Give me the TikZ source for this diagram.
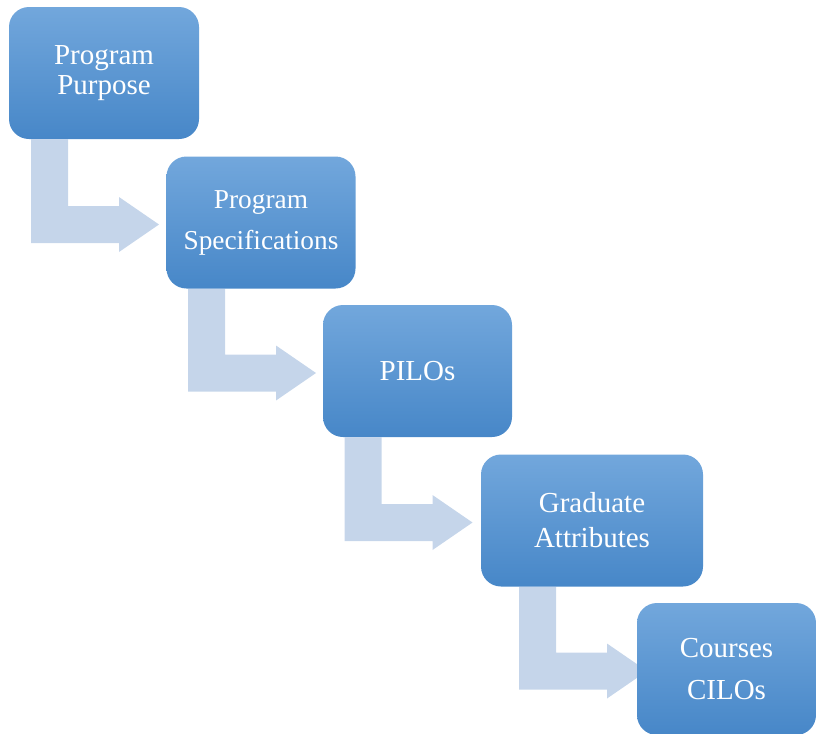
\documentclass[tikz,border=0pt]{standalone}
\usepackage{fontspec}
\setmainfont{Liberation Serif}
\usetikzlibrary{calc,backgrounds}
\definecolor{boxtop}{HTML}{72A7DC}
\definecolor{boxmid}{HTML}{5A9BDA}
\definecolor{boxbot}{HTML}{4787C8}
\definecolor{bendfill}{HTML}{C5D5EA}
\begin{document}
\begin{tikzpicture}[x=0.75pt,y=-0.75pt,
	stage/.style={rounded corners=15pt, top color=boxtop, middle color=boxmid, bottom color=boxbot,
		text=white, align=center, minimum height=99pt, inner sep=0pt,
		font=\fontsize{21.75}{22.5}\selectfont},
	bendarrow/.style={fill=bendfill}]
\useasboundingbox (0,0) rectangle (817,733);
\node[stage, minimum width=142.5pt] (p1) at (104,73) {Program\\Purpose};
\node[stage, minimum width=141.75pt, font=\fontsize{20.5}{22.5}\selectfont] (p2) at (261,222.5) {Program\\[8.25pt]Specifications};
\node[stage, minimum width=141.75pt] (p3) at (417.5,371) {PILOs};
\node[stage, minimum width=166.5pt] (p4) at (592,520.5) {Graduate\\[3.75pt]Attributes};
\node[stage, minimum width=134.25pt] (p5) at (726.5,669) {Courses\\[9pt]CILOs};
\begin{pgfonlayer}{background}
\foreach \a/\b in {p1/p2, p2/p3, p3/p4, p4/p5}
	\fill[bendarrow] let \p1=(\a.center), \p2=(\b.center), \p3=(\a.south) in
		(\x1-54.75pt,\y3) -- (\x1-27pt,\y3) -- (\x1-27pt,\y2+12.375pt)
		-- (\x1+11.25pt,\y2+12.375pt) -- (\x1+11.25pt,\y2+19.125pt)
		-- (\x1+41.25pt,\y2-1.5pt) -- (\x1+11.25pt,\y2-22.125pt)
		-- (\x1+11.25pt,\y2-15.375pt) -- (\x1-54.75pt,\y2-15.375pt) -- cycle;
\end{pgfonlayer}
\end{tikzpicture}
\end{document}
